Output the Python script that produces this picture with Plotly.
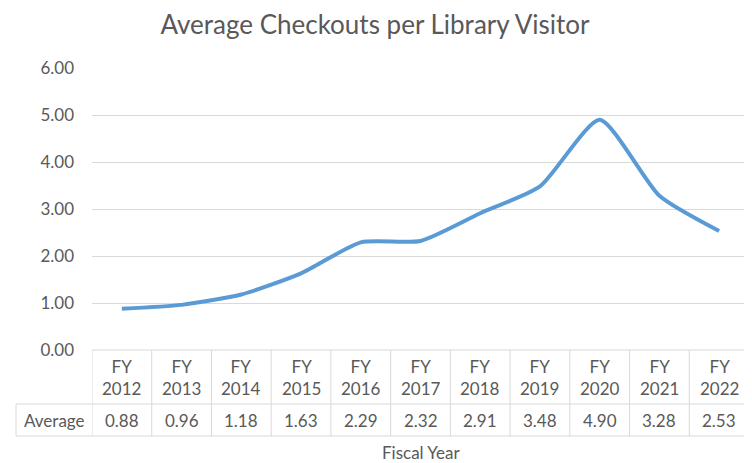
import plotly.graph_objects as go

categories = ["FY<br>2012", "FY<br>2013", "FY<br>2014", "FY<br>2015", "FY<br>2016", "FY<br>2017",
              "FY<br>2018", "FY<br>2019", "FY<br>2020", "FY<br>2021", "FY<br>2022"]
averages = [0.88, 0.96, 1.18, 1.63, 2.29, 2.32, 2.91, 3.48, 4.90, 3.28, 2.53]
series_name = "Average"
y_ticks = [0, 1, 2, 3, 4, 5, 6]

OFF = 8  # page body margin
W, H = 752 - OFF, 463 - OFF
L, R, T, B = 92 - OFF, 3, 68 - OFF, 113
plot_h = H - T - B
plot_w = W - L - R

def py(pix):  # screen pixel y -> paper y
    return (H - B - (pix - OFF)) / plot_h

def px(pix):  # screen pixel x -> paper x
    return ((pix - OFF) - L) / plot_w

grey_text = "#595959"
border = "#d9d9d9"
font_fam = "Lato"

n = len(categories)
xs = list(range(n))

fig = go.Figure()
fig.add_trace(go.Scatter(x=xs, y=averages, mode="lines", name=series_name,
                         line=dict(color="#5B9BD5", width=4, shape="spline", smoothing=0.6),
                         hoverinfo="y"))

y_head_top = 350
y_mid = 404
y_bot = 436

shapes = []
for i in range(n + 1):
    shapes.append(dict(type="line", xref="x", yref="paper", x0=i - 0.5, x1=i - 0.5,
                       y0=py(y_head_top), y1=py(y_bot), line=dict(color=border, width=1)))
shapes.append(dict(type="line", xref="x", yref="paper", x0=-0.5, x1=n - 0.5,
                   y0=py(y_head_top), y1=py(y_head_top), line=dict(color=border, width=1)))
for yy in (y_mid, y_bot):
    shapes.append(dict(type="line", xref="paper", yref="paper", x0=px(16), x1=1,
                       y0=py(yy), y1=py(yy), line=dict(color=border, width=1)))
shapes.append(dict(type="line", xref="paper", yref="paper", x0=px(16), x1=px(16),
                   y0=py(y_mid), y1=py(y_bot), line=dict(color=border, width=1)))

txt_font = dict(family=font_fam, size=17, color=grey_text)
annotations = []
for i, (c, v) in enumerate(zip(categories, averages)):
    annotations.append(dict(x=i, y=py((y_head_top + y_mid) / 2), xref="x", yref="paper",
                            xanchor="center", yanchor="middle",
                            text=c, showarrow=False, font=txt_font))
    annotations.append(dict(x=i, y=py((y_mid + y_bot) / 2), xref="x", yref="paper",
                            xanchor="center", yanchor="middle",
                            text=f"{v:.2f}", showarrow=False, font=txt_font))
annotations.append(dict(x=px(54), y=py((y_mid + y_bot) / 2), xref="paper", yref="paper",
                        xanchor="center", yanchor="middle",
                        text=series_name, showarrow=False, font=txt_font))
annotations.append(dict(x=0.5, y=py(452), xref="paper", yref="paper",
                        xanchor="center", yanchor="middle",
                        text="Fiscal Year", showarrow=False, font=txt_font))

fig.update_layout(
    width=W, height=H,
    margin=dict(l=L, r=R, t=T, b=B),
    paper_bgcolor="white", plot_bgcolor="white",
    showlegend=False,
    title=dict(text="Average Checkouts per Library Visitor", x=(375 - OFF) / W, xref="container",
               xanchor="center", y=1 - (25 - OFF) / H, yanchor="middle",
               font=dict(family=font_fam, size=26, color=grey_text)),
    xaxis=dict(range=[-0.5, n - 0.5], showticklabels=False, showgrid=False, zeroline=False,
               ticks="", showline=False, fixedrange=True),
    yaxis=dict(range=[0, 6], tickvals=y_ticks, tickformat=".2f", showgrid=True, gridcolor=border,
               gridwidth=1, zeroline=False, ticks="", showline=False, ticklabelstandoff=17,
               tickfont=dict(family=font_fam, size=17, color=grey_text), fixedrange=True),
    shapes=shapes,
    annotations=annotations,
)

fig.write_html("out.html")
